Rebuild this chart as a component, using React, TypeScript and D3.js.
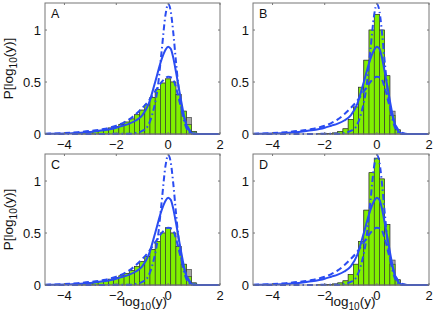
import React from 'react';
import * as d3 from 'd3';

// histogram bins (log10 space)
const binCenters = [-3.6, -3.4, -3.2, -3.0, -2.8, -2.6, -2.4, -2.2, -2.0, -1.8, -1.6, -1.4, -1.2, -1.0, -0.8, -0.6, -0.4, -0.2, 0.0, 0.2, 0.4, 0.6, 0.8, 1.0, 1.2];
const binWidth = 0.2;

const histA = [0.008, 0.012, 0.016, 0.022, 0.028, 0.036, 0.046, 0.058, 0.072, 0.09, 0.115, 0.145, 0.185, 0.23, 0.28, 0.35, 0.43, 0.49, 0.53, 0.5, 0.38, 0.22, 0.09, 0.025, 0.005];
const grayA = [0.008, 0.012, 0.016, 0.022, 0.028, 0.036, 0.046, 0.058, 0.072, 0.09, 0.115, 0.145, 0.185, 0.23, 0.28, 0.35, 0.43, 0.49, 0.53, 0.5, 0.38, 0.22, 0.16, 0.025, 0.005];
const histB = [0, 0, 0, 0, 0, 0, 0, 0.002, 0.003, 0.005, 0.01, 0.025, 0.05, 0.14, 0.26, 0.45, 0.71, 1.0, 1.15, 1.0, 0.56, 0.18, 0.04, 0.005, 0];
const grayB = [0, 0, 0, 0, 0, 0, 0, 0.002, 0.003, 0.005, 0.01, 0.025, 0.05, 0.14, 0.26, 0.45, 0.71, 1.0, 1.15, 1.0, 0.56, 0.22, 0.04, 0.005, 0];
const histC = [0.008, 0.011, 0.015, 0.02, 0.026, 0.034, 0.044, 0.056, 0.07, 0.088, 0.11, 0.14, 0.18, 0.225, 0.275, 0.34, 0.42, 0.5, 0.55, 0.5, 0.37, 0.2, 0.08, 0.02, 0.004];
const grayC = [0.008, 0.011, 0.015, 0.02, 0.026, 0.034, 0.044, 0.056, 0.07, 0.088, 0.11, 0.14, 0.18, 0.225, 0.275, 0.34, 0.42, 0.5, 0.55, 0.5, 0.37, 0.2, 0.15, 0.02, 0.004];
const histD = [0, 0, 0, 0, 0, 0, 0, 0.002, 0.003, 0.005, 0.01, 0.02, 0.04, 0.1, 0.2, 0.42, 0.72, 1.08, 1.22, 1.02, 0.58, 0.2, 0.05, 0.008, 0];
const grayD = [0, 0, 0, 0, 0, 0, 0, 0.002, 0.003, 0.005, 0.01, 0.02, 0.04, 0.1, 0.2, 0.42, 0.72, 1.08, 1.22, 1.02, 0.58, 0.24, 0.05, 0.008, 0];

// fitted densities, same in every panel
const solidX = [-4.75, -4.5, -4.0, -3.5, -3.0, -2.5, -2.0, -1.75, -1.5, -1.25, -1.0, -0.75, -0.5, -0.25, -0.1, 0.0, 0.1, 0.2, 0.3, 0.4, 0.5, 0.6, 0.7, 0.8, 0.9, 1.0, 1.2, 2.0];
const solidY = [0.0, 0.002, 0.005, 0.01, 0.02, 0.035, 0.06, 0.08, 0.1, 0.13, 0.18, 0.29, 0.5, 0.72, 0.81, 0.84, 0.82, 0.73, 0.6, 0.46, 0.32, 0.19, 0.09, 0.035, 0.01, 0.002, 0, 0];
const dashX = [-4.75, -4.5, -4.0, -3.5, -3.0, -2.5, -2.0, -1.75, -1.5, -1.25, -1.0, -0.75, -0.5, -0.25, 0.0, 0.15, 0.3, 0.45, 0.6, 0.75, 0.9, 1.1, 1.3, 2.0];
const dashY = [0.003, 0.005, 0.01, 0.018, 0.03, 0.048, 0.08, 0.105, 0.14, 0.19, 0.25, 0.32, 0.41, 0.5, 0.55, 0.54, 0.45, 0.3, 0.17, 0.07, 0.02, 0.003, 0, 0];
const dashDotX = [-4.75, -1.5, -1.25, -1.0, -0.8, -0.6, -0.4, -0.25, -0.1, 0.0, 0.1, 0.2, 0.3, 0.4, 0.5, 0.6, 0.7, 0.8, 0.9, 1.0, 2.0];
const dashDotY = [0, 0.002, 0.01, 0.03, 0.07, 0.2, 0.45, 0.8, 1.15, 1.25, 1.18, 0.97, 0.7, 0.45, 0.27, 0.14, 0.06, 0.02, 0.005, 0, 0];

const xTicks = [-4, -2, 0, 2];
const yTicks = [0, 0.5, 1];
const yTickLabels = ['0', '0.5', '1'];

const panels = [
  { name: 'A', hist: histA, gray: grayA, col: 0, row: 0 },
  { name: 'B', hist: histB, gray: grayB, col: 1, row: 0 },
  { name: 'C', hist: histC, gray: grayC, col: 0, row: 1 },
  { name: 'D', hist: histD, gray: grayD, col: 1, row: 1 },
];

const colX = [[45, 220], [253, 429]];
const rowY = [[3, 134], [154, 285]];

const blue = '#2a4cf2';
const green = '#80f000';
const font = '"Liberation Sans", Arial, sans-serif';

const Panel = ({ p }) => {
  const [x0, x1] = colX[p.col];
  const [y0, y1] = rowY[p.row];
  const x = d3.scaleLinear().domain([-4.75, 2]).range([x0, x1]);
  const y = d3.scaleLinear().domain([0, 1.26]).range([y1, y0]);

  const mk = (xs, ys) =>
    d3.line().x((d) => x(d[0])).y((d) => y(d[1])).curve(d3.curveMonotoneX)(xs.map((v, i) => [v, ys[i]]));

  const bars = (vals, fill) =>
    binCenters.map((c, i) =>
      vals[i] > 0 ? (
        <rect
          key={fill + i}
          x={x(c - binWidth / 2)}
          y={y(vals[i])}
          width={x(c + binWidth / 2) - x(c - binWidth / 2)}
          height={y(0) - y(vals[i])}
          fill={fill}
          stroke="#333"
          strokeWidth={0.6}
        />
      ) : null
    );

  const mid = (x0 + x1) / 2;

  return (
    <g fontFamily={font}>
      <rect x={x0} y={y0} width={x1 - x0} height={y1 - y0} fill="#fff" />
      {bars(p.gray, '#a8a8a8')}
      {bars(p.hist, green)}
      <path d={mk(dashX, dashY)} fill="none" stroke={blue} strokeWidth={2} strokeDasharray="6,3.5" />
      <path d={mk(dashDotX, dashDotY)} fill="none" stroke={blue} strokeWidth={2} strokeDasharray="6,3,1.5,3" />
      <path d={mk(solidX, solidY)} fill="none" stroke={blue} strokeWidth={2} />
      <rect x={x0} y={y0} width={x1 - x0} height={y1 - y0} fill="none" stroke="#777" strokeWidth={1} />
      {xTicks.map((t) => (
        <g key={'x' + t}>
          <line x1={x(t)} x2={x(t)} y1={y1} y2={y1 - 2} stroke="#777" />
          <line x1={x(t)} x2={x(t)} y1={y0} y2={y0 + 2} stroke="#777" />
          <text x={x(t)} y={y1 + 15} fontSize={13} textAnchor="middle" fill="#111">
            {t < 0 ? '\u2212' + Math.abs(t) : String(t)}
          </text>
        </g>
      ))}
      {yTicks.map((t, i) => (
        <g key={'y' + t}>
          <line x1={x0} x2={x0 + 2} y1={y(t)} y2={y(t)} stroke="#777" />
          <line x1={x1} x2={x1 - 2} y1={y(t)} y2={y(t)} stroke="#777" />
          <text x={x0 - 4} y={y(t) + 4.5} fontSize={13} textAnchor="end" fill="#111">
            {yTickLabels[i]}
          </text>
        </g>
      ))}
      <text x={x0 + 6} y={y0 + 15} fontSize={12.5} fill="#111">
        {p.name}
      </text>
      {p.col === 0 && (
        <text
          transform={`translate(13,${(y0 + y1) / 2}) rotate(-90)`}
          fontSize={13.5}
          textAnchor="middle"
          fill="#111"
        >
          P[log<tspan dy={4} fontSize={10}>10</tspan>
          <tspan dy={-4}>(y)]</tspan>
        </text>
      )}
      {p.row === 1 && (
        <text x={mid + 12} y={y1 + 21} fontSize={13.5} textAnchor="middle" fill="#111">
          log<tspan dy={4} fontSize={10}>10</tspan>
          <tspan dy={-4}>(y)</tspan>
        </text>
      )}
    </g>
  );
};

export default function App() {
  return (
    <svg width={436} height={316} style={{ position: 'absolute', left: 0, top: 0 }}>
      <rect width={436} height={316} fill="#fff" />
      {panels.map((p) => (
        <Panel key={p.name} p={p} />
      ))}
    </svg>
  );
}
